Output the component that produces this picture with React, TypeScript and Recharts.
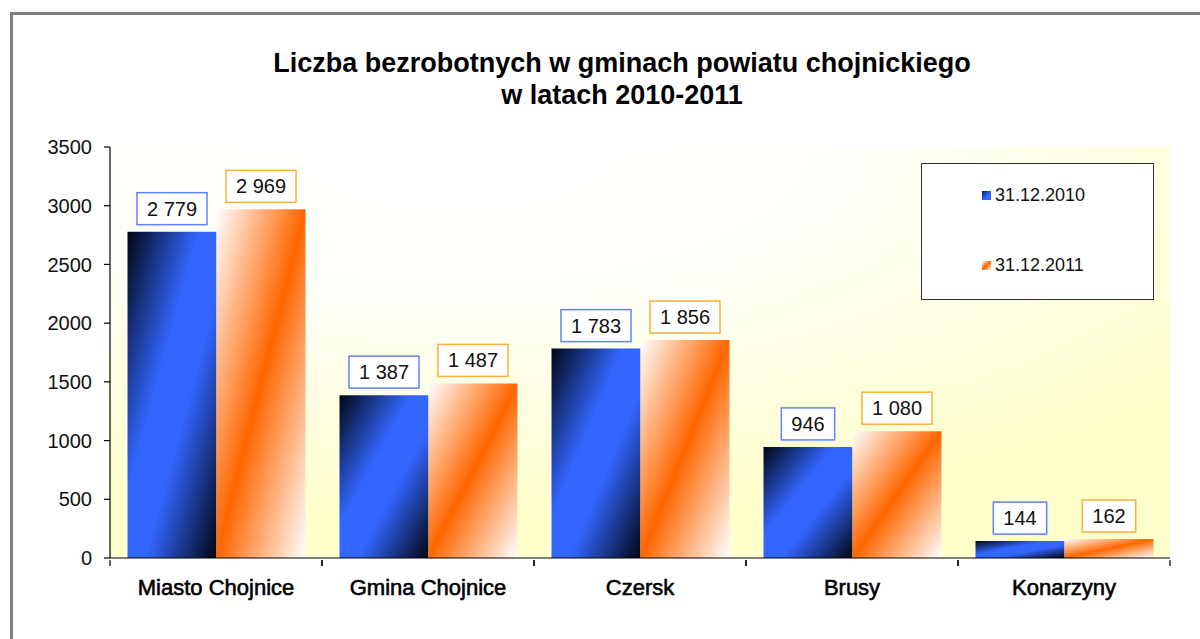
import { Bar, BarChart, CartesianGrid, LabelList, Legend, XAxis, YAxis } from "recharts";

const gminy = ["Miasto Chojnice", "Gmina Chojnice", "Czersk", "Brusy", "Konarzyny"];
const stan2010 = [2779, 1387, 1783, 946, 144];
const stan2011 = [2969, 1487, 1856, 1080, 162];
const yTicks = [0, 500, 1000, 1500, 2000, 2500, 3000, 3500];
const seriesNames = ["31.12.2010", "31.12.2011"];

const rows = gminy.map((name, i) => ({ name, y2010: stan2010[i], y2011: stan2011[i] }));

const font = "'Liberation Sans', Arial, sans-serif";

const formatValue = (value: number) => String(value).replace(/\B(?=(\d{3})+(?!\d))/g, " ");

function ValueBox({ x, y, width, value, color }: any) {
  const text = formatValue(Number(value));
  const digits = text.replace(/ /g, "").length;
  const spaces = text.length - digits;
  const textW = (digits * 0.556 + spaces * 0.278) * 20;
  const boxW = textW + 20;
  const boxH = 32;
  const cx = Number(x) + Number(width) / 2;
  const bottom = Number(y) - 7;
  return (
    <g>
      <rect x={cx - boxW / 2} y={bottom - boxH} width={boxW} height={boxH} fill="#ffffff" stroke={color} strokeWidth={1.5} />
      <text x={cx} y={bottom - boxH / 2 + 7} textAnchor="middle" fontSize={20} fontFamily={font} fill="#111">
        {text}
      </text>
    </g>
  );
}

function CategoryTick({ x, y, payload, width }: any) {
  const half = payload?.offset ?? Number(width) / gminy.length / 2;
  return (
    <g>
      <line x1={x - half} x2={x - half} y1={y} y2={y + 6} stroke="#000" strokeWidth={1.2} />
      <line x1={x + half} x2={x + half} y1={y} y2={y + 6} stroke="#000" strokeWidth={1.2} />
      <text
        x={x}
        y={y + 35}
        textAnchor="middle"
        fontSize={22}
        fontFamily={font}
        fill="#000"
        stroke="#000"
        strokeWidth={0.6}
      >
        {payload.value}
      </text>
    </g>
  );
}

function LegendBox() {
  return (
    <div
      style={{
        width: 231,
        height: 135,
        border: "1.5px solid #333",
        background: "#fff",
        fontFamily: font,
        fontSize: 18,
        color: "#111",
        position: "relative",
      }}
    >
      {seriesNames.map((name, i) => (
        <div key={name} style={{ position: "absolute", left: 60, top: 21 + i * 70, display: "flex", alignItems: "center" }}>
          <svg width={9} height={9} style={{ marginRight: 4 }}>
            <rect width={9} height={9} fill={i === 0 ? "url(#legBlue)" : "url(#legOrange)"} />
            <defs>
              <linearGradient id="legBlue" x1="0" y1="0" x2="1" y2="1">
                <stop offset="0" stopColor="#0a1a60" />
                <stop offset="0.6" stopColor="#3366ff" />
              </linearGradient>
              <linearGradient id="legOrange" x1="0" y1="0" x2="1" y2="1">
                <stop offset="0" stopColor="#fff" />
                <stop offset="0.5" stopColor="#ff6600" />
                <stop offset="1" stopColor="#fff" />
              </linearGradient>
            </defs>
          </svg>
          <span>{name}</span>
        </div>
      ))}
    </div>
  );
}

export default function App() {
  return (
    <div style={{ position: "absolute", left: 0, top: 0, width: 1200, height: 639, overflow: "hidden", background: "#fff" }}>
      <div
        style={{
          position: "absolute",
          left: 10,
          top: 12,
          width: 1190,
          height: 627,
          borderLeft: "3px solid #808080",
          borderTop: "3px solid #808080",
        }}
      />
      <div
        style={{
          position: "absolute",
          left: 222,
          top: 47,
          width: 800,
          textAlign: "center",
          fontFamily: font,
          fontWeight: "bold",
          fontSize: 27,
          lineHeight: "32px",
          color: "#000",
        }}
      >
        Liczba bezrobotnych w gminach powiatu chojnickiego
        <br />w latach 2010-2011
      </div>
      <div style={{ position: "absolute", left: 0, top: 0 }}>
        <BarChart
          width={1200}
          height={639}
          data={rows}
          margin={{ top: 147, right: 30, left: 0, bottom: 0 }}
          barCategoryGap={17.5}
          barGap={0}
        >
          <defs>
            <radialGradient id="plotBg" cx="0.33" cy="0" r="0.9" fx="0.33" fy="0">
              <stop offset="0" stopColor="#ffffff" />
              <stop offset="0.4" stopColor="#fffffa" />
              <stop offset="1" stopColor="#ffffcc" />
            </radialGradient>
            <linearGradient id="barBlue" x1="0" y1="0" x2="1" y2="1">
              <stop offset="0" stopColor="#000612" />
              <stop offset="0.4" stopColor="#3366ff" />
              <stop offset="0.6" stopColor="#3366ff" />
              <stop offset="1" stopColor="#000612" />
            </linearGradient>
            <linearGradient id="barOrange" x1="0" y1="0" x2="1" y2="1">
              <stop offset="0" stopColor="#ffffff" />
              <stop offset="0.5" stopColor="#ff6600" />
              <stop offset="1" stopColor="#ffffff" />
            </linearGradient>
          </defs>
          <CartesianGrid horizontal={false} vertical={false} fill="url(#plotBg)" stroke="none" />
          <XAxis
            dataKey="name"
            height={81}
            tickSize={0}
            tickLine={false}
            axisLine={{ stroke: "#000", strokeWidth: 1.2 }}
            tick={<CategoryTick />}
            interval={0}
          />
          <YAxis
            width={110}
            domain={[0, 3500]}
            ticks={yTicks}
            interval={0}
            tickSize={6}
            tickMargin={12}
            axisLine={{ stroke: "#000", strokeWidth: 1.2 }}
            tickLine={{ stroke: "#000", strokeWidth: 1.2 }}
            tick={{ fontSize: 20, fontFamily: font, fill: "#111" }}
          />
          <Legend
            layout="horizontal"
            verticalAlign="middle"
            align="center"
            wrapperStyle={{ position: "absolute", left: 921, top: 163, width: 234, height: 138 }}
            content={() => <LegendBox />}
          />
          <Bar dataKey="y2010" name={seriesNames[0]} fill="url(#barBlue)" isAnimationActive={false}>
            <LabelList dataKey="y2010" content={(p: any) => <ValueBox {...p} color="#5f82ff" />} />
          </Bar>
          <Bar dataKey="y2011" name={seriesNames[1]} fill="url(#barOrange)" isAnimationActive={false}>
            <LabelList dataKey="y2011" content={(p: any) => <ValueBox {...p} color="#ffae3c" />} />
          </Bar>
        </BarChart>
      </div>
    </div>
  );
}
